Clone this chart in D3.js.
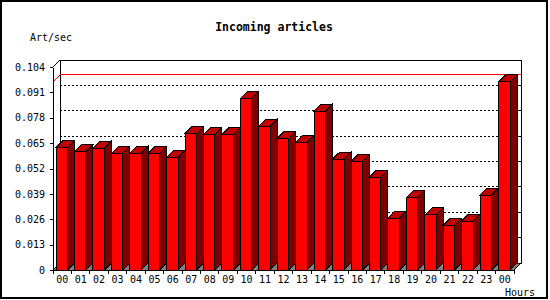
<!DOCTYPE html>
<html>
<head>
<meta charset="utf-8">
<script src="https://cdn.jsdelivr.net/npm/d3@7"></script>
<style>
  body { margin: 0; background: #fff; }
  svg { display: block; }
  text { font-family: "DejaVu Sans Mono", monospace; fill: #000; }
</style>
</head>
<body>
<svg id="chart" width="550" height="300"></svg>
<script>
const hours = ['00', '01', '02', '03', '04', '05', '06', '07', '08', '09', '10', '11',
  '12', '13', '14', '15', '16', '17', '18', '19', '20', '21', '22', '23', '00'];
const artPerSec = [0.0628, 0.0606, 0.0623, 0.0597, 0.0597, 0.0597, 0.0577, 0.0700,
  0.0695, 0.0695, 0.0879, 0.0736, 0.0676, 0.0654, 0.0814, 0.0568, 0.0556, 0.0476,
  0.0265, 0.0372, 0.0282, 0.0230, 0.0251, 0.0384, 0.0964];
const yTicks = [0, 0.013, 0.026, 0.039, 0.052, 0.065, 0.078, 0.091, 0.104];
const chartTitle = 'Incoming articles';
const yTitle = 'Art/sec';
const xTitle = 'Hours';

const depth = 7;   // 3D offset
const svg = d3.select('#chart').attr('shape-rendering', 'crispEdges');

// outer frame
svg.append('rect')
  .attr('x', 1).attr('y', 1).attr('width', 546).attr('height', 297)
  .attr('fill', '#fff').attr('stroke', '#000').attr('stroke-width', 2);

const x = d3.scaleBand().domain(d3.range(hours.length)).range([53, 514]);
const y = d3.scaleLinear().domain([0, d3.max(yTicks)]).range([270, 67]);
const [x0, x1] = x.range();
const [yBot, yTop] = y.range();
const bw = x.bandwidth() - depth;
const bx = i => x(i) + 3;

// back wall
svg.append('rect')
  .attr('x', x0 + depth).attr('y', yTop - depth)
  .attr('width', x1 - x0).attr('height', yBot - yTop)
  .attr('fill', '#fff').attr('stroke', '#000');

// dotted grid on the back wall
svg.append('g')
  .selectAll('line')
  .data(yTicks.slice(1, -1))
  .join('line')
    .attr('x1', x0 + depth).attr('x2', x1 + depth)
    .attr('y1', d => y(d) - depth).attr('y2', d => y(d) - depth)
    .attr('stroke', '#000').attr('stroke-dasharray', '2,2');

// small ticks on the right wall
svg.append('g')
  .selectAll('line')
  .data(yTicks.slice(1, -1))
  .join('line')
    .attr('x1', x1 + depth - 3).attr('x2', x1 + depth)
    .attr('y1', d => y(d) - depth).attr('y2', d => y(d) - depth)
    .attr('stroke', '#000');

// max line
const yMax = y(d3.max(artPerSec));
svg.append('path')
  .attr('d', `M${x0},${yMax}L${x0 + depth},${yMax - depth}L${x1 + depth},${yMax - depth}`)
  .attr('fill', 'none').attr('stroke', '#f00');

// floor
svg.append('path')
  .attr('d', `M${x0},${yBot}L${x0 + depth},${yBot - depth}L${x1 + depth},${yBot - depth}L${x1},${yBot}Z`)
  .attr('fill', '#808080').attr('stroke', '#000');

// top-left diagonal
svg.append('line')
  .attr('x1', x0).attr('y1', yTop).attr('x2', x0 + depth).attr('y2', yTop - depth)
  .attr('stroke', '#000');

// bars
const bars = svg.append('g')
  .selectAll('g')
  .data(artPerSec)
  .join('g');

bars.append('path')
  .attr('d', (d, i) => {
    const l = bx(i) + bw, t = y(d);
    return `M${l},${t}L${l + depth},${t - depth}L${l + depth},${yBot - depth}L${l},${yBot}Z`;
  })
  .attr('fill', '#800000').attr('stroke', '#000');

bars.append('path')
  .attr('d', (d, i) => {
    const l = bx(i), t = y(d);
    return `M${l},${t}L${l + depth},${t - depth}L${l + bw + depth},${t - depth}L${l + bw},${t}Z`;
  })
  .attr('fill', '#c00000').attr('stroke', '#000');

bars.append('rect')
  .attr('x', (d, i) => bx(i))
  .attr('y', d => y(d))
  .attr('width', bw)
  .attr('height', d => yBot - y(d))
  .attr('fill', '#f00').attr('stroke', '#000');

// y axis
svg.append('g')
  .attr('transform', `translate(${x0},0)`)
  .call(d3.axisLeft(y).tickValues(yTicks).tickSize(3).tickSizeOuter(0).tickPadding(5)
    .tickFormat(d => d === 0 ? '0' : d3.format('.3f')(d)))
  .call(g => g.selectAll('text').attr('font-size', 10).attr('font-family', null))
  .call(g => g.selectAll('path,line').attr('stroke', '#000'));

// x axis: labels at band centres, ticks at band edges
svg.append('g')
  .attr('transform', `translate(0,${yBot})`)
  .call(d3.axisBottom(x).tickSize(0).tickPadding(6).tickFormat(i => hours[i]))
  .call(g => g.select('.domain').remove())
  .call(g => g.selectAll('text').attr('font-size', 10).attr('font-family', null));

svg.append('line')
  .attr('x1', x0).attr('x2', x1).attr('y1', yBot).attr('y2', yBot)
  .attr('stroke', '#000');

svg.append('g')
  .selectAll('line')
  .data([...x.domain().map(i => x(i)), x1])
  .join('line')
    .attr('x1', d => d).attr('x2', d => d)
    .attr('y1', yBot).attr('y2', yBot + 4)
    .attr('stroke', '#000');

// titles
svg.append('text')
  .attr('x', 274).attr('y', 31)
  .attr('text-anchor', 'middle')
  .attr('font-size', 11.5).attr('font-weight', 'bold')
  .text(chartTitle);

svg.append('text')
  .attr('x', 30).attr('y', 41)
  .attr('font-size', 10)
  .text(yTitle);

svg.append('text')
  .attr('x', 505).attr('y', 296)
  .attr('font-size', 10)
  .text(xTitle);
</script>
</body>
</html>
